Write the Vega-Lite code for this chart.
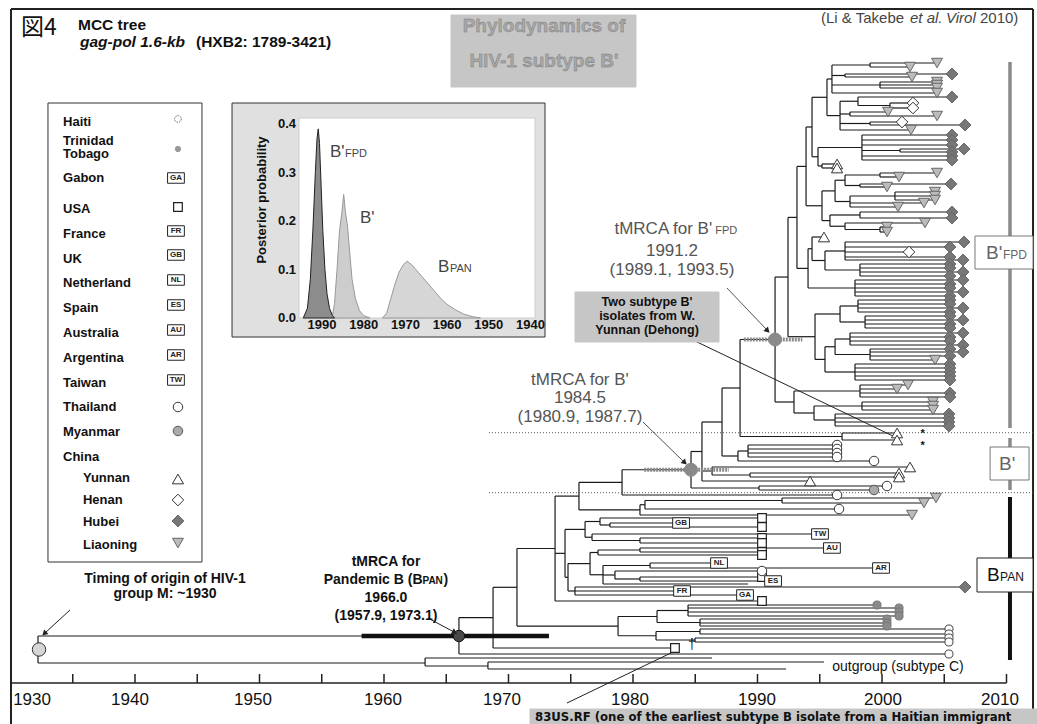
{
"$schema":"https://vega.github.io/schema/vega-lite/v6.json",
"width":1037,"height":724,"padding":0,"autosize":{"type":"none"},
"background":"white",
"config":{"view":{"stroke":null},"font":"Liberation Sans"},
"datasets":{
"boxes":[
{"x":1933.01,"x2":1945.38,"r":103,"r2":562,"k":"leg"},
{"x":1965.38,"x2":1980.24,"r":15,"r2":87,"k":"grey"},
{"x":1975.34,"x2":1986.91,"r":292,"r2":342,"k":"grey"},
{"x":1971.73,"x2":2012.45,"r":709,"r2":724,"k":"grey"},
{"x":2007.47,"x2":2012.13,"r":236,"r2":269,"k":"cg"},
{"x":2008.68,"x2":2011.81,"r":447,"r2":480,"k":"cg"},
{"x":2007.63,"x2":2012.13,"r":558,"r2":592,"k":"ck"}
],
"segs":[
{"x":1930.04,"x2":2012.13,"r":9,"r2":9,"k":"fr"},
{"x":1930.04,"x2":1930.04,"r":9,"r2":724,"k":"fr"},
{"x":2012.13,"x2":2012.13,"r":9,"r2":724,"k":"fr"},
{"x":1930.12,"x2":2010,"r":683,"r2":683,"k":"ax"},
{"x":1935,"x2":1935,"r":674,"r2":683,"k":"ax"},
{"x":1940,"x2":1940,"r":674,"r2":683,"k":"ax"},
{"x":1945,"x2":1945,"r":674,"r2":683,"k":"ax"},
{"x":1950,"x2":1950,"r":674,"r2":683,"k":"ax"},
{"x":1955,"x2":1955,"r":674,"r2":683,"k":"ax"},
{"x":1960,"x2":1960,"r":674,"r2":683,"k":"ax"},
{"x":1965,"x2":1965,"r":674,"r2":683,"k":"ax"},
{"x":1970,"x2":1970,"r":674,"r2":683,"k":"ax"},
{"x":1975,"x2":1975,"r":674,"r2":683,"k":"ax"},
{"x":1980,"x2":1980,"r":674,"r2":683,"k":"ax"},
{"x":1985,"x2":1985,"r":674,"r2":683,"k":"ax"},
{"x":1990,"x2":1990,"r":674,"r2":683,"k":"ax"},
{"x":1995,"x2":1995,"r":674,"r2":683,"k":"ax"},
{"x":2000,"x2":2000,"r":674,"r2":683,"k":"ax"},
{"x":2005,"x2":2005,"r":674,"r2":683,"k":"ax"},
{"x":2010,"x2":2010,"r":674,"r2":683,"k":"ax"},
{"x":1968.43,"x2":2012.13,"r":432.7,"r2":432.7,"k":"dot"},
{"x":1968.43,"x2":2012.13,"r":492.7,"r2":492.7,"k":"dot"},
{"x":2010.28,"x2":2010.28,"r":62,"r2":428,"k":"barg"},
{"x":2010.28,"x2":2010.28,"r":438,"r2":490,"k":"barg"},
{"x":2010.28,"x2":2010.28,"r":497,"r2":660,"k":"bark"},
{"x":1958.2,"x2":1973.25,"r":636,"r2":636,"k":"hpd"},
{"x":1980.9,"x2":1987.7,"r":469.75,"r2":469.75,"k":"hpdg"},
{"x":1988.9,"x2":1993.6,"r":339.5,"r2":339.5,"k":"hpdg"},
{"x":1934.78,"x2":1932.77,"r":610,"r2":633,"k":"arr"},
{"x":1963.53,"x2":1965.62,"r":618,"r2":632,"k":"arr"},
{"x":1980.8,"x2":1984.1,"r":422,"r2":462,"k":"garr"},
{"x":1987.55,"x2":1990.76,"r":288,"r2":330,"k":"garr"},
{"x":1984.98,"x2":2000.88,"r":341,"r2":436,"k":"arr"},
{"x":1983.21,"x2":1974.7,"r":652,"r2":703,"k":"arr"}
],
"h":[
{"x":1932.21,"x2":1966.02,"r":636},{"x":1932.21,"x2":1963.3,"r":663},{"x":1963.3,"x2":1986.35,"r":658},{"x":1963.3,"x2":1968.35,"r":666},{"x":1968.35,"x2":1995.34,"r":662},{"x":1968.35,"x2":1992.29,"r":669},
{"x":1966.02,"x2":1968.76,"r":617.6},{"x":1966.02,"x2":2005.38,"r":654},
{"x":1968.76,"x2":1970.68,"r":587.3},{"x":1968.76,"x2":1983.37,"r":648},
{"x":1970.68,"x2":1973.74,"r":548.5},{"x":1970.68,"x2":1978.8,"r":626.1},
{"x":1978.8,"x2":1981.93,"r":616.5},{"x":1978.8,"x2":1981.85,"r":635.75},
{"x":1981.93,"x2":1984.42,"r":610.5},{"x":1981.93,"x2":1985.38,"r":622.5},
{"x":1984.42,"x2":1999.6,"r":605},{"x":1984.42,"x2":2001.37,"r":608},{"x":1984.42,"x2":2001.37,"r":612},{"x":1984.42,"x2":2001.37,"r":616},
{"x":1985.38,"x2":2000.4,"r":619},{"x":1985.38,"x2":2000.4,"r":623},{"x":1985.38,"x2":2000.4,"r":626},
{"x":1981.85,"x2":1985.38,"r":631.5},{"x":1981.85,"x2":1984.98,"r":640},
{"x":1985.38,"x2":2005.38,"r":629},{"x":1985.38,"x2":2005.38,"r":634},
{"x":1984.98,"x2":2005.38,"r":638},{"x":1984.98,"x2":2005.38,"r":642},
{"x":1973.74,"x2":1975.66,"r":496.1},{"x":1973.74,"x2":1974.54,"r":553.35},{"x":1973.74,"x2":1990.36,"r":601},
{"x":1975.66,"x2":1979.12,"r":482.4},{"x":1975.66,"x2":1980.56,"r":509.9},
{"x":1980.56,"x2":1980.96,"r":504.75},{"x":1980.56,"x2":2002.41,"r":515},
{"x":1980.96,"x2":1991.97,"r":500.5},{"x":1980.96,"x2":1996.55,"r":509},
{"x":1991.97,"x2":2004.34,"r":498},{"x":1991.97,"x2":2003.37,"r":503},
{"x":1979.12,"x2":1984.66,"r":469.75},{"x":1979.12,"x2":1996.39,"r":495},
{"x":1984.66,"x2":1985.54,"r":451.5},{"x":1984.66,"x2":1990.12,"r":488},
{"x":1990.12,"x2":2000.4,"r":486},{"x":1990.12,"x2":1999.36,"r":490},
{"x":1985.54,"x2":1987.15,"r":422},{"x":1985.54,"x2":1986.35,"r":471},{"x":1985.54,"x2":1994.22,"r":481},
{"x":1986.35,"x2":2002.25,"r":467},{"x":1986.35,"x2":1989.4,"r":475},
{"x":1989.4,"x2":2001.37,"r":473},{"x":1989.4,"x2":2001.37,"r":477},
{"x":1987.15,"x2":1988.6,"r":388},{"x":1987.15,"x2":1988.43,"r":456},
{"x":1988.43,"x2":1989.24,"r":451},{"x":1988.43,"x2":1999.36,"r":461},
{"x":1989.24,"x2":1996.39,"r":445},{"x":1989.24,"x2":1996.39,"r":449},{"x":1989.24,"x2":1996.39,"r":453},{"x":1989.24,"x2":1996.39,"r":457},
{"x":1988.6,"x2":1991.41,"r":339.5},{"x":1988.6,"x2":1996.79,"r":436.5},
{"x":1996.79,"x2":2001.21,"r":433},{"x":1996.79,"x2":2001.21,"r":440},
{"x":1991.41,"x2":1992.45,"r":277.05},{"x":1991.41,"x2":1992.93,"r":402},
{"x":1992.93,"x2":1998.23,"r":391},{"x":1992.93,"x2":1994.54,"r":413},
{"x":1998.23,"x2":2002.09,"r":385},{"x":1998.23,"x2":2001.21,"r":389},{"x":1998.23,"x2":2005.46,"r":393},{"x":1998.23,"x2":2005.46,"r":397},
{"x":1994.54,"x2":1998.39,"r":406},{"x":1994.54,"x2":1996.23,"r":420},
{"x":1998.39,"x2":2004.1,"r":402},{"x":1998.39,"x2":2004.1,"r":406},{"x":1998.39,"x2":2004.1,"r":410},
{"x":1996.23,"x2":2005.38,"r":414},{"x":1996.23,"x2":2005.38,"r":418},{"x":1996.23,"x2":2005.38,"r":422},{"x":1996.23,"x2":2005.38,"r":426},
{"x":1992.45,"x2":1993.17,"r":217.4},{"x":1992.45,"x2":1994.62,"r":336.7},
{"x":1993.17,"x2":1993.9,"r":166.4},{"x":1993.17,"x2":1994.06,"r":268.4},
{"x":1993.9,"x2":1994.38,"r":127},{"x":1993.9,"x2":1995.18,"r":205.75},
{"x":1994.38,"x2":1995.58,"r":97.3},{"x":1994.38,"x2":1994.86,"r":156.75},
{"x":1995.58,"x2":1995.98,"r":79},{"x":1995.58,"x2":1996.63,"r":115.6},
{"x":1995.98,"x2":1999.04,"r":65},{"x":1995.98,"x2":1997.03,"r":75.5},{"x":1995.98,"x2":1999.84,"r":85},{"x":1995.98,"x2":2004.42,"r":93},
{"x":1999.04,"x2":2004.42,"r":63},{"x":1999.04,"x2":2002.25,"r":67},
{"x":1997.03,"x2":2005.62,"r":74},{"x":1997.03,"x2":2002.41,"r":77},
{"x":1999.84,"x2":2004.42,"r":82},{"x":1999.84,"x2":2004.42,"r":85},{"x":1999.84,"x2":2004.42,"r":88},
{"x":1996.63,"x2":1998.07,"r":101.25},{"x":1996.63,"x2":1997.43,"r":114},{"x":1996.63,"x2":1999.04,"r":123.5},{"x":1996.63,"x2":2002.33,"r":130},
{"x":1998.07,"x2":2005.62,"r":97},{"x":1998.07,"x2":2000.64,"r":105.5},
{"x":2000.64,"x2":2002.49,"r":103},{"x":2000.64,"x2":2002.49,"r":108},
{"x":1997.43,"x2":2000.48,"r":112},{"x":1997.43,"x2":2004.42,"r":116},
{"x":1999.04,"x2":2001.61,"r":122},{"x":1999.04,"x2":2006.67,"r":125},
{"x":1994.86,"x2":1998.39,"r":147.5},{"x":1994.86,"x2":1995.18,"r":166},
{"x":1998.39,"x2":2005.62,"r":135},{"x":1998.39,"x2":2005.62,"r":140},{"x":1998.39,"x2":2005.62,"r":145},{"x":1998.39,"x2":2001.45,"r":150.5},{"x":1998.39,"x2":2005.62,"r":156},{"x":1998.39,"x2":2005.62,"r":160},
{"x":2001.45,"x2":2006.59,"r":149},{"x":2001.45,"x2":2005.62,"r":152},
{"x":1995.18,"x2":1996.39,"r":164},{"x":1995.18,"x2":1996.39,"r":168},
{"x":1995.18,"x2":1996.23,"r":190.9},{"x":1995.18,"x2":1995.82,"r":220.6},
{"x":1996.23,"x2":1997.03,"r":180.25},{"x":1996.23,"x2":1997.43,"r":201.5},
{"x":1997.03,"x2":1999.84,"r":175},{"x":1997.03,"x2":1998.23,"r":185.5},
{"x":1999.84,"x2":2004.42,"r":173},{"x":1999.84,"x2":2001.37,"r":177},
{"x":1998.23,"x2":2005.54,"r":184},{"x":1998.23,"x2":2000.4,"r":187},
{"x":1997.43,"x2":2001.04,"r":196},{"x":1997.43,"x2":2003.37,"r":203},{"x":1997.43,"x2":2001.29,"r":207},
{"x":2001.04,"x2":2004.26,"r":192},{"x":2001.04,"x2":2004.26,"r":196},{"x":2001.04,"x2":2004.26,"r":200},
{"x":1995.82,"x2":1998.23,"r":215},{"x":1995.82,"x2":1997.03,"r":226.25},
{"x":1998.23,"x2":2005.62,"r":212},{"x":1998.23,"x2":2005.62,"r":218},
{"x":1997.03,"x2":2003.45,"r":223},{"x":1997.03,"x2":1999.84,"r":229.5},
{"x":1999.84,"x2":2000.4,"r":227},{"x":1999.84,"x2":2000.4,"r":232},
{"x":1994.06,"x2":1994.38,"r":248.75},{"x":1994.06,"x2":1997.83,"r":288},
{"x":1994.38,"x2":1995.34,"r":237},{"x":1994.38,"x2":1995.42,"r":260.5},
{"x":1995.42,"x2":1997.03,"r":251},{"x":1995.42,"x2":1998.23,"r":270},
{"x":1997.03,"x2":2006.59,"r":242},{"x":1997.03,"x2":2005.46,"r":247},{"x":1997.03,"x2":2002.17,"r":252},{"x":1997.03,"x2":2005.46,"r":257},{"x":1997.03,"x2":2006.51,"r":260},
{"x":1998.23,"x2":2005.46,"r":264},{"x":1998.23,"x2":2005.46,"r":268},{"x":1998.23,"x2":2006.51,"r":272},{"x":1998.23,"x2":2005.46,"r":276},
{"x":1997.83,"x2":2006.51,"r":280},{"x":1997.83,"x2":2005.46,"r":284},{"x":1997.83,"x2":2005.46,"r":288},{"x":1997.83,"x2":2006.51,"r":292},{"x":1997.83,"x2":2005.46,"r":296},
{"x":1994.62,"x2":1996.63,"r":314},{"x":1994.62,"x2":1995.42,"r":359.4},
{"x":1996.63,"x2":1998.07,"r":306},{"x":1996.63,"x2":1998.64,"r":322},
{"x":1998.07,"x2":2005.46,"r":300},{"x":1998.07,"x2":2005.46,"r":304},{"x":1998.07,"x2":2006.51,"r":308},{"x":1998.07,"x2":2005.46,"r":312},
{"x":1998.64,"x2":2005.46,"r":316},{"x":1998.64,"x2":2006.51,"r":320},{"x":1998.64,"x2":2005.46,"r":324},{"x":1998.64,"x2":2005.46,"r":328},
{"x":1995.42,"x2":1996.23,"r":346.75},{"x":1995.42,"x2":1997.83,"r":372},
{"x":1996.23,"x2":1997.43,"r":339},{"x":1996.23,"x2":1999.04,"r":354.5},
{"x":1997.43,"x2":2006.51,"r":333},{"x":1997.43,"x2":2005.46,"r":337},{"x":1997.43,"x2":2005.46,"r":341},{"x":1997.43,"x2":2006.51,"r":345},
{"x":1999.04,"x2":2005.46,"r":349},{"x":1999.04,"x2":2006.51,"r":352},{"x":1999.04,"x2":2005.46,"r":356},{"x":1999.04,"x2":2004.26,"r":360},
{"x":1997.83,"x2":2005.46,"r":364},{"x":1997.83,"x2":2005.46,"r":368},{"x":1997.83,"x2":2005.46,"r":372},{"x":1997.83,"x2":2005.46,"r":376},{"x":1997.83,"x2":2005.46,"r":380},
{"x":1974.54,"x2":1976.15,"r":529.4},{"x":1974.54,"x2":1974.78,"r":577.3},
{"x":1976.15,"x2":1977.35,"r":521.5},{"x":1976.15,"x2":1976.71,"r":537.25},
{"x":1977.35,"x2":1990.36,"r":518},{"x":1977.35,"x2":1978.15,"r":525},
{"x":1978.15,"x2":1983.86,"r":523},{"x":1978.15,"x2":1990.36,"r":527},
{"x":1976.71,"x2":1995.02,"r":534},{"x":1976.71,"x2":1980.56,"r":540.5},
{"x":1980.56,"x2":1990.36,"r":538},{"x":1980.56,"x2":1990.36,"r":543},
{"x":1974.78,"x2":1976.55,"r":563.6},{"x":1974.78,"x2":1975.34,"r":591},
{"x":1976.55,"x2":1977.19,"r":552.5},{"x":1976.55,"x2":1977.59,"r":574.75},
{"x":1977.19,"x2":1980.56,"r":550},{"x":1977.19,"x2":1990.36,"r":555},
{"x":1980.56,"x2":1995.98,"r":548},{"x":1980.56,"x2":1990.36,"r":552},
{"x":1977.59,"x2":1981.37,"r":565.5},{"x":1977.59,"x2":1978.55,"r":575},{"x":1977.59,"x2":1989.24,"r":584},
{"x":1981.37,"x2":1986.91,"r":563},{"x":1981.37,"x2":1999.92,"r":568},
{"x":1978.55,"x2":1990.36,"r":571},{"x":1978.55,"x2":1980.56,"r":579},
{"x":1980.56,"x2":1990.36,"r":577},{"x":1980.56,"x2":1991.25,"r":581},
{"x":1975.34,"x2":2006.67,"r":587},{"x":1975.34,"x2":1983.94,"r":591},{"x":1975.34,"x2":1989.0,"r":595}
],
"v":[
{"x":1932.21,"r":636,"r2":663},{"x":1963.3,"r":658,"r2":666},{"x":1968.35,"r":662,"r2":669},
{"x":1966.02,"r":617.6,"r2":654},{"x":1968.76,"r":587.3,"r2":648},{"x":1970.68,"r":548.5,"r2":626.1},
{"x":1978.8,"r":616.5,"r2":635.75},{"x":1981.93,"r":610.5,"r2":622.5},{"x":1984.42,"r":605,"r2":616},{"x":1985.38,"r":619,"r2":626},
{"x":1981.85,"r":631.5,"r2":640},{"x":1985.38,"r":629,"r2":634},{"x":1984.98,"r":638,"r2":642},
{"x":1973.74,"r":496.1,"r2":601},{"x":1975.66,"r":482.4,"r2":509.9},{"x":1980.56,"r":504.75,"r2":515},{"x":1980.96,"r":500.5,"r2":509},{"x":1991.97,"r":498,"r2":503},
{"x":1979.12,"r":469.75,"r2":495},{"x":1984.66,"r":451.5,"r2":488},{"x":1990.12,"r":486,"r2":490},
{"x":1985.54,"r":422,"r2":481},{"x":1986.35,"r":467,"r2":475},{"x":1989.4,"r":473,"r2":477},
{"x":1987.15,"r":388,"r2":456},{"x":1988.43,"r":451,"r2":461},{"x":1989.24,"r":445,"r2":457},
{"x":1988.6,"r":339.5,"r2":436.5},{"x":1996.79,"r":433,"r2":440},
{"x":1991.41,"r":277.05,"r2":402},{"x":1992.93,"r":391,"r2":413},{"x":1998.23,"r":385,"r2":397},{"x":1994.54,"r":406,"r2":420},{"x":1998.39,"r":402,"r2":410},{"x":1996.23,"r":414,"r2":426},
{"x":1992.45,"r":217.4,"r2":336.7},{"x":1993.17,"r":166.4,"r2":268.4},{"x":1993.9,"r":127,"r2":205.75},{"x":1994.38,"r":97.3,"r2":156.75},{"x":1995.58,"r":79,"r2":115.6},
{"x":1995.98,"r":65,"r2":93},{"x":1999.04,"r":63,"r2":67},{"x":1997.03,"r":74,"r2":77},{"x":1999.84,"r":82,"r2":88},
{"x":1996.63,"r":101.25,"r2":130},{"x":1998.07,"r":97,"r2":105.5},{"x":2000.64,"r":103,"r2":108},{"x":1997.43,"r":112,"r2":116},{"x":1999.04,"r":122,"r2":125},
{"x":1994.86,"r":147.5,"r2":166},{"x":1998.39,"r":135,"r2":160},{"x":2001.45,"r":149,"r2":152},{"x":1995.18,"r":164,"r2":168},
{"x":1995.18,"r":190.9,"r2":220.6},{"x":1996.23,"r":180.25,"r2":201.5},{"x":1997.03,"r":175,"r2":185.5},{"x":1999.84,"r":173,"r2":177},{"x":1998.23,"r":184,"r2":187},
{"x":1997.43,"r":196,"r2":207},{"x":2001.04,"r":192,"r2":200},{"x":1995.82,"r":215,"r2":226.25},{"x":1998.23,"r":212,"r2":218},{"x":1997.03,"r":223,"r2":229.5},{"x":1999.84,"r":227,"r2":232},
{"x":1994.06,"r":248.75,"r2":288},{"x":1994.38,"r":237,"r2":260.5},{"x":1995.42,"r":251,"r2":270},{"x":1997.03,"r":242,"r2":260},{"x":1998.23,"r":264,"r2":276},{"x":1997.83,"r":280,"r2":296},
{"x":1994.62,"r":314,"r2":359.4},{"x":1996.63,"r":306,"r2":322},{"x":1998.07,"r":300,"r2":312},{"x":1998.64,"r":316,"r2":328},
{"x":1995.42,"r":346.75,"r2":372},{"x":1996.23,"r":339,"r2":354.5},{"x":1997.43,"r":333,"r2":345},{"x":1999.04,"r":349,"r2":360},{"x":1997.83,"r":364,"r2":380},
{"x":1974.54,"r":529.4,"r2":577.3},{"x":1976.15,"r":521.5,"r2":537.25},{"x":1977.35,"r":518,"r2":525},{"x":1978.15,"r":523,"r2":527},{"x":1976.71,"r":534,"r2":540.5},{"x":1980.56,"r":538,"r2":543},
{"x":1974.78,"r":563.6,"r2":591},{"x":1976.55,"r":552.5,"r2":574.75},{"x":1977.19,"r":550,"r2":555},{"x":1980.56,"r":548,"r2":552},
{"x":1977.59,"r":565.5,"r2":584},{"x":1981.37,"r":563,"r2":568},{"x":1978.55,"r":571,"r2":579},{"x":1980.56,"r":577,"r2":581},{"x":1975.34,"r":587,"r2":595}
],
"pts":[
{"x":1932.29,"r":649.5,"s":"root"},
{"x":1966.02,"r":636,"s":"bpan"},
{"x":1984.66,"r":469.75,"s":"node"},
{"x":1991.41,"r":339.5,"s":"node"},
{"x":1943.45,"r":119,"s":"ha"},
{"x":1943.45,"r":149,"s":"ttl"},
{"x":1943.45,"r":207,"s":"us"},
{"x":1943.45,"r":407,"s":"th"},
{"x":1943.45,"r":431,"s":"my"},
{"x":1943.45,"r":479,"s":"yu"},
{"x":1943.45,"r":500,"s":"he"},
{"x":1943.45,"r":521,"s":"hu"},
{"x":1943.45,"r":543,"s":"li"},
{"x":2004.42,"r":63,"s":"li"},{"x":2002.25,"r":67,"s":"li"},{"x":2005.62,"r":74,"s":"hu"},{"x":2002.41,"r":77,"s":"li"},
{"x":2004.42,"r":82,"s":"li"},{"x":2004.42,"r":85,"s":"li"},{"x":2004.42,"r":88,"s":"li"},{"x":2004.42,"r":93,"s":"li"},
{"x":2005.62,"r":97,"s":"hu"},{"x":2002.49,"r":103,"s":"he"},{"x":2002.49,"r":108,"s":"he"},{"x":2000.48,"r":112,"s":"li"},{"x":2004.42,"r":116,"s":"li"},
{"x":2001.61,"r":122,"s":"he"},{"x":2006.67,"r":125,"s":"hu"},{"x":2002.33,"r":130,"s":"li"},
{"x":2005.62,"r":135,"s":"hu"},{"x":2005.62,"r":140,"s":"hu"},{"x":2005.62,"r":145,"s":"hu"},{"x":2006.59,"r":149,"s":"hu"},{"x":2005.62,"r":152,"s":"hu"},{"x":2005.62,"r":156,"s":"hu"},{"x":2005.62,"r":160,"s":"hu"},
{"x":1996.39,"r":164,"s":"yu"},{"x":1996.39,"r":168,"s":"yu"},
{"x":2004.42,"r":173,"s":"li"},{"x":2001.37,"r":177,"s":"li"},{"x":2005.54,"r":184,"s":"hu"},{"x":2000.4,"r":187,"s":"li"},
{"x":2004.26,"r":192,"s":"li"},{"x":2004.26,"r":196,"s":"li"},{"x":2004.26,"r":200,"s":"li"},{"x":2003.37,"r":203,"s":"li"},{"x":2001.29,"r":207,"s":"li"},
{"x":2005.62,"r":212,"s":"hu"},{"x":2005.62,"r":218,"s":"hu"},{"x":2003.45,"r":223,"s":"li"},{"x":2000.4,"r":227,"s":"li"},{"x":2000.4,"r":232,"s":"li"},
{"x":1995.34,"r":237,"s":"yu"},
{"x":2006.59,"r":242,"s":"hu"},{"x":2005.46,"r":247,"s":"hu"},{"x":2002.17,"r":252,"s":"he"},{"x":2005.46,"r":257,"s":"hu"},{"x":2006.51,"r":260,"s":"hu"},
{"x":2005.46,"r":264,"s":"hu"},{"x":2005.46,"r":268,"s":"hu"},{"x":2006.51,"r":272,"s":"hu"},{"x":2005.46,"r":276,"s":"hu"},
{"x":2006.51,"r":280,"s":"hu"},{"x":2005.46,"r":284,"s":"hu"},{"x":2005.46,"r":288,"s":"hu"},{"x":2006.51,"r":292,"s":"hu"},{"x":2005.46,"r":296,"s":"hu"},
{"x":2005.46,"r":300,"s":"hu"},{"x":2005.46,"r":304,"s":"hu"},{"x":2006.51,"r":308,"s":"hu"},{"x":2005.46,"r":312,"s":"hu"},
{"x":2005.46,"r":316,"s":"hu"},{"x":2006.51,"r":320,"s":"hu"},{"x":2005.46,"r":324,"s":"hu"},{"x":2005.46,"r":328,"s":"hu"},
{"x":2006.51,"r":333,"s":"hu"},{"x":2005.46,"r":337,"s":"hu"},{"x":2005.46,"r":341,"s":"hu"},{"x":2006.51,"r":345,"s":"hu"},
{"x":2005.46,"r":349,"s":"hu"},{"x":2006.51,"r":352,"s":"hu"},{"x":2005.46,"r":356,"s":"hu"},{"x":2004.26,"r":360,"s":"li"},
{"x":2005.46,"r":364,"s":"hu"},{"x":2005.46,"r":368,"s":"hu"},{"x":2005.46,"r":372,"s":"hu"},{"x":2005.46,"r":376,"s":"hu"},{"x":2005.46,"r":380,"s":"hu"},
{"x":2002.09,"r":385,"s":"li"},{"x":2001.21,"r":389,"s":"li"},{"x":2005.46,"r":393,"s":"hu"},{"x":2005.46,"r":397,"s":"hu"},
{"x":2004.1,"r":402,"s":"li"},{"x":2004.1,"r":406,"s":"li"},{"x":2004.1,"r":410,"s":"li"},
{"x":2005.38,"r":414,"s":"hu"},{"x":2005.38,"r":418,"s":"hu"},{"x":2005.38,"r":422,"s":"hu"},{"x":2005.38,"r":426,"s":"hu"},
{"x":2001.21,"r":433,"s":"yu"},{"x":2001.21,"r":440,"s":"yu"},
{"x":1996.39,"r":445,"s":"th"},{"x":1996.39,"r":449,"s":"th"},{"x":1996.39,"r":453,"s":"th"},{"x":1996.39,"r":457,"s":"th"},{"x":1999.36,"r":461,"s":"th"},
{"x":2002.25,"r":467,"s":"yu"},{"x":2001.37,"r":473,"s":"yu"},{"x":2001.37,"r":477,"s":"yu"},{"x":1994.22,"r":481,"s":"yu"},
{"x":2000.4,"r":486,"s":"th"},{"x":1999.36,"r":490,"s":"my"},{"x":1996.39,"r":495,"s":"th"},
{"x":2004.34,"r":498,"s":"li"},{"x":2003.37,"r":503,"s":"li"},{"x":1996.55,"r":509,"s":"th"},{"x":2002.41,"r":515,"s":"li"},
{"x":1990.36,"r":518,"s":"us"},{"x":1990.36,"r":527,"s":"us"},{"x":1990.36,"r":538,"s":"us"},{"x":1990.36,"r":543,"s":"us"},
{"x":1990.36,"r":552,"s":"us"},{"x":1990.36,"r":555,"s":"us"},{"x":1990.36,"r":571,"s":"th"},{"x":1990.36,"r":577,"s":"us"},
{"x":2006.67,"r":587,"s":"hu"},{"x":1990.36,"r":601,"s":"us"},
{"x":1999.6,"r":605,"s":"tt"},{"x":2001.37,"r":608,"s":"tt"},{"x":2001.37,"r":612,"s":"tt"},{"x":2001.37,"r":616,"s":"tt"},
{"x":2000.4,"r":619,"s":"tt"},{"x":2000.4,"r":623,"s":"tt"},{"x":2000.4,"r":626,"s":"tt"},
{"x":2005.38,"r":629,"s":"hb"},{"x":2005.38,"r":634,"s":"hb"},{"x":2005.38,"r":638,"s":"hb"},{"x":2005.38,"r":642,"s":"hb"},{"x":2005.38,"r":654,"s":"hb"},
{"x":1983.37,"r":648,"s":"us"}
],
"codes":[
{"x":1943.29,"r":178,"c":"GA"},
{"x":1943.29,"r":231,"c":"FR"},
{"x":1943.29,"r":255,"c":"GB"},
{"x":1943.29,"r":280,"c":"NL"},
{"x":1943.29,"r":305,"c":"ES"},
{"x":1943.29,"r":330,"c":"AU"},
{"x":1943.29,"r":355,"c":"AR"},
{"x":1943.29,"r":380,"c":"TW"},
{"x":1983.86,"r":523,"c":"GB"},
{"x":1995.02,"r":534,"c":"TW"},
{"x":1995.98,"r":548,"c":"AU"},
{"x":1986.91,"r":563,"c":"NL"},
{"x":1999.92,"r":568,"c":"AR"},
{"x":1991.25,"r":581,"c":"ES"},
{"x":1983.94,"r":591,"c":"FR"},
{"x":1989.0,"r":595,"c":"GA"}
],
"heads":[
{"x":1932.77,"r":633,"a":227},
{"x":1965.62,"r":632,"a":118},
{"x":1984.1,"r":462,"a":134},
{"x":1990.76,"r":330,"a":136}
],
"texts":[
{"x":1935.42,"r":25,"t":"MCC tree","st":"t1"},
{"x":1944.9,"r":41.5,"t":"(HXB2: 1789-3421)","st":"t1"},
{"x":1935.58,"r":41.5,"t":"gag-pol 1.6-kb","st":"t1i"},
{"x":1930.84,"r":28,"t":"図","st":"cjk"},
{"x":1932.69,"r":28,"t":"4","st":"cjk"},
{"x":1972.85,"r":26,"t":"Phylodynamics of","st":"phy"},
{"x":1972.85,"r":61,"t":"HIV-1 subtype B'","st":"phy"},
{"x":1995.1,"r":18,"t":"(Li & Takebe","st":"cit"},
{"x":2002.25,"r":18,"t":"et al.","st":"citi"},
{"x":2005.14,"r":18,"t":"Virol","st":"citi"},
{"x":2007.87,"r":18,"t":"2010)","st":"cit"},
{"x":1934.22,"r":122,"t":"Haiti","st":"leg"},
{"x":1934.22,"r":141,"t":"Trinidad","st":"leg"},
{"x":1934.22,"r":154,"t":"Tobago","st":"leg"},
{"x":1934.22,"r":178,"t":"Gabon","st":"leg"},
{"x":1934.22,"r":209,"t":"USA","st":"leg"},
{"x":1934.22,"r":234,"t":"France","st":"leg"},
{"x":1934.22,"r":259,"t":"UK","st":"leg"},
{"x":1934.22,"r":283,"t":"Netherland","st":"leg"},
{"x":1934.22,"r":308,"t":"Spain","st":"leg"},
{"x":1934.22,"r":333,"t":"Australia","st":"leg"},
{"x":1934.22,"r":358,"t":"Argentina","st":"leg"},
{"x":1934.22,"r":383,"t":"Taiwan","st":"leg"},
{"x":1934.22,"r":407,"t":"Thailand","st":"leg"},
{"x":1934.22,"r":432,"t":"Myanmar","st":"leg"},
{"x":1934.22,"r":457,"t":"China","st":"leg"},
{"x":1935.82,"r":478,"t":"Yunnan","st":"leg"},
{"x":1935.82,"r":500,"t":"Henan","st":"leg"},
{"x":1935.82,"r":522,"t":"Hubei","st":"leg"},
{"x":1935.82,"r":545,"t":"Liaoning","st":"leg"},
{"x":1931.73,"r":700,"t":"1930","st":"ax"},
{"x":1939.6,"r":700,"t":"1940","st":"ax"},
{"x":1949.48,"r":700,"t":"1950","st":"ax"},
{"x":1959.92,"r":700,"t":"1960","st":"ax"},
{"x":1969.48,"r":700,"t":"1970","st":"ax"},
{"x":1979.76,"r":700,"t":"1980","st":"ax"},
{"x":1989.96,"r":700,"t":"1990","st":"ax"},
{"x":2000.08,"r":700,"t":"2000","st":"ax"},
{"x":2009.48,"r":700,"t":"2010","st":"ax"},
{"x":1942.41,"r":579,"t":"Timing of origin of HIV-1","st":"ann"},
{"x":1942.41,"r":594,"t":"group M: ~1930","st":"ann"},
{"x":1960.16,"r":562,"t":"tMRCA for","st":"ann"},
{"x":1955.16,"r":580,"t":"Pandemic B (B","st":"annl"},
{"x":1963.09,"r":581,"t":"PAN","st":"annsm"},
{"x":1964.78,"r":580,"t":")","st":"annl"},
{"x":1960.16,"r":598,"t":"1966.0","st":"ann"},
{"x":1960.16,"r":616,"t":"(1957.9, 1973.1)","st":"ann"},
{"x":1978.51,"r":229,"t":"tMRCA for B'","st":"gannl"},
{"x":1986.6,"r":231,"t":"FPD","st":"gsm"},
{"x":1983.13,"r":251,"t":"1991.2","st":"gann"},
{"x":1983.13,"r":270,"t":"(1989.1, 1993.5)","st":"gann"},
{"x":1975.74,"r":380,"t":"tMRCA for B'","st":"gann"},
{"x":1975.74,"r":398,"t":"1984.5","st":"gann"},
{"x":1975.74,"r":417,"t":"(1980.9, 1987.7)","st":"gann"},
{"x":1981.13,"r":302,"t":"Two subtype B'","st":"two"},
{"x":1981.13,"r":316,"t":"isolates from W.","st":"two"},
{"x":1981.13,"r":330,"t":"Yunnan (Dehong)","st":"two"},
{"x":1972.13,"r":717,"t":"83US.RF (one of the earliest subtype B isolate from a Haitian immigrant","st":"us83"},
{"x":1996.0,"r":667,"t":"outgroup (subtype C)","st":"out"},
{"x":1984.42,"r":645,"t":"†","st":"out"},
{"x":2003.1,"r":434,"t":"*","st":"ast"},
{"x":2003.1,"r":446,"t":"*","st":"ast"},
{"x":2008.35,"r":253,"t":"B'","st":"cladeg"},
{"x":2009.72,"r":255,"t":"FPD","st":"cladegs"},
{"x":2009.4,"r":464,"t":"B'","st":"cladeg"},
{"x":2008.43,"r":575,"t":"B","st":"cladek"},
{"x":2009.48,"r":577,"t":"PAN","st":"cladeks"}
],
"iboxes":[
{"x":2011.58,"x2":1936.52,"v":0.4433,"v2":-0.0392,"k":"bg"},
{"x":1995.52,"x2":1938.92,"v":0.4124,"v2":0,"k":"pl"}
],
"igrid":[
{"x":1995,"k":"d"},{"x":1990,"k":"s"},{"x":1985,"k":"d"},{"x":1980,"k":"s"},{"x":1975,"k":"d"},{"x":1970,"k":"s"},{"x":1965,"k":"d"},{"x":1960,"k":"s"},{"x":1955,"k":"d"},{"x":1950,"k":"s"},{"x":1945,"k":"d"},{"x":1940,"k":"s"}
],
"icurves":[
{"x":1987.6,"v":0,"c":"b"},{"x":1987,"v":0.03,"c":"b"},{"x":1986.4,"v":0.1,"c":"b"},{"x":1985.8,"v":0.18,"c":"b"},{"x":1985.2,"v":0.22,"c":"b"},{"x":1984.8,"v":0.255,"c":"b"},{"x":1984.4,"v":0.22,"c":"b"},{"x":1983.9,"v":0.19,"c":"b"},{"x":1983.4,"v":0.14,"c":"b"},{"x":1982.8,"v":0.08,"c":"b"},{"x":1982,"v":0.04,"c":"b"},{"x":1981,"v":0.015,"c":"b"},{"x":1980,"v":0.005,"c":"b"},{"x":1978.5,"v":0,"c":"b"},
{"x":1975.5,"v":0,"c":"pan"},{"x":1974.5,"v":0.01,"c":"pan"},{"x":1973.5,"v":0.04,"c":"pan"},{"x":1972.5,"v":0.07,"c":"pan"},{"x":1971.5,"v":0.095,"c":"pan"},{"x":1970.5,"v":0.11,"c":"pan"},{"x":1969.6,"v":0.117,"c":"pan"},{"x":1968.5,"v":0.11,"c":"pan"},{"x":1967.5,"v":0.1,"c":"pan"},{"x":1966,"v":0.085,"c":"pan"},{"x":1964.5,"v":0.07,"c":"pan"},{"x":1963,"v":0.055,"c":"pan"},{"x":1961.5,"v":0.04,"c":"pan"},{"x":1960,"v":0.028,"c":"pan"},{"x":1958,"v":0.017,"c":"pan"},{"x":1956,"v":0.008,"c":"pan"},{"x":1954,"v":0.003,"c":"pan"},{"x":1952,"v":0,"c":"pan"},
{"x":1994.5,"v":0,"c":"fpd"},{"x":1993.5,"v":0.02,"c":"fpd"},{"x":1992.8,"v":0.08,"c":"fpd"},{"x":1992.2,"v":0.18,"c":"fpd"},{"x":1991.6,"v":0.3,"c":"fpd"},{"x":1991.2,"v":0.37,"c":"fpd"},{"x":1990.9,"v":0.39,"c":"fpd"},{"x":1990.6,"v":0.36,"c":"fpd"},{"x":1990.2,"v":0.27,"c":"fpd"},{"x":1989.8,"v":0.18,"c":"fpd"},{"x":1989.3,"v":0.1,"c":"fpd"},{"x":1988.8,"v":0.05,"c":"fpd"},{"x":1988.2,"v":0.02,"c":"fpd"},{"x":1987.5,"v":0.005,"c":"fpd"},{"x":1987,"v":0,"c":"fpd"}
],
"itexts":[
{"x":1996.24,"v":0,"t":"0.0","st":"yl"},
{"x":1996.24,"v":0.1,"t":"0.1","st":"yl"},
{"x":1996.24,"v":0.2,"t":"0.2","st":"yl"},
{"x":1996.24,"v":0.3,"t":"0.3","st":"yl"},
{"x":1996.24,"v":0.4,"t":"0.4","st":"yl"},
{"x":1990,"v":-0.0144,"t":"1990","st":"xl"},
{"x":1980,"v":-0.0144,"t":"1980","st":"xl"},
{"x":1970,"v":-0.0144,"t":"1970","st":"xl"},
{"x":1960,"v":-0.0144,"t":"1960","st":"xl"},
{"x":1950,"v":-0.0144,"t":"1950","st":"xl"},
{"x":1940,"v":-0.0144,"t":"1940","st":"xl"},
{"x":2004.39,"v":0.2433,"t":"Posterior probability","st":"yt"},
{"x":1988.08,"v":0.3423,"t":"B'","st":"lab"},
{"x":1984.49,"v":0.338,"t":"FPD","st":"labs"},
{"x":1980.89,"v":0.2062,"t":"B'","st":"lab"},
{"x":1962.18,"v":0.1052,"t":"B","st":"lab"},
{"x":1959.31,"v":0.101,"t":"PAN","st":"labs"}
]
},
"layer":[
{"encoding":{
  "x":{"field":"x","type":"quantitative","scale":{"domain":[1929.157,2012.45],"nice":false,"zero":false},"axis":null},
  "y":{"field":"r","type":"quantitative","scale":{"domain":[0,724],"reverse":true,"nice":false,"zero":false},"axis":null}},
 "layer":[
  {"data":{"name":"h"},"mark":{"type":"rule","color":"#1a1a1a","strokeWidth":1.2},"encoding":{"x2":{"field":"x2"}}},
  {"data":{"name":"v"},"mark":{"type":"rule","color":"#1a1a1a","strokeWidth":1.2},"encoding":{"y2":{"field":"r2"}}},
  {"data":{"name":"segs"},"transform":[{"filter":"datum.k==='fr'"}],"mark":{"type":"rule","color":"#222","strokeWidth":2},"encoding":{"x2":{"field":"x2"},"y2":{"field":"r2"}}},
  {"data":{"name":"segs"},"transform":[{"filter":"datum.k==='ax'"}],"mark":{"type":"rule","color":"#222","strokeWidth":1.5},"encoding":{"x2":{"field":"x2"},"y2":{"field":"r2"}}},
  {"data":{"name":"segs"},"transform":[{"filter":"datum.k==='hpd'"}],"mark":{"type":"rule","color":"#111","strokeWidth":4.5},"encoding":{"x2":{"field":"x2"},"y2":{"field":"r2"}}},
  {"data":{"name":"segs"},"transform":[{"filter":"datum.k==='hpdg'"}],"mark":{"type":"rule","color":"#8a8a8a","strokeWidth":4,"strokeDash":[2,1]},"encoding":{"x2":{"field":"x2"},"y2":{"field":"r2"}}},
  {"data":{"name":"segs"},"transform":[{"filter":"datum.k==='dot'"}],"mark":{"type":"rule","color":"#555","strokeWidth":1,"strokeDash":[1,2]},"encoding":{"x2":{"field":"x2"},"y2":{"field":"r2"}}},
  {"data":{"name":"segs"},"transform":[{"filter":"datum.k==='arr'"}],"mark":{"type":"rule","color":"#222","strokeWidth":1},"encoding":{"x2":{"field":"x2"},"y2":{"field":"r2"}}},
  {"data":{"name":"segs"},"transform":[{"filter":"datum.k==='garr'"}],"mark":{"type":"rule","color":"#555","strokeWidth":1},"encoding":{"x2":{"field":"x2"},"y2":{"field":"r2"}}},
  {"data":{"name":"segs"},"transform":[{"filter":"datum.k==='barg'"}],"mark":{"type":"rule","color":"#8a8a8a","strokeWidth":3.5},"encoding":{"x2":{"field":"x2"},"y2":{"field":"r2"}}},
  {"data":{"name":"segs"},"transform":[{"filter":"datum.k==='bark'"}],"mark":{"type":"rule","color":"#111","strokeWidth":4},"encoding":{"x2":{"field":"x2"},"y2":{"field":"r2"}}},
  {"data":{"name":"boxes"},"mark":{"type":"rect","strokeWidth":1},
   "encoding":{"x2":{"field":"x2"},"y2":{"field":"r2"},
     "fill":{"field":"k","type":"nominal","scale":{"domain":["leg","grey","cg","ck"],"range":["#ffffff","#c6c6c6","#ffffff","#ffffff"]},"legend":null},
     "stroke":{"field":"k","type":"nominal","scale":{"domain":["leg","grey","cg","ck"],"range":["#333333","#c6c6c6","#777777","#222222"]},"legend":null}}},
  {"data":{"name":"pts"},"transform":[{"filter":"datum.s==='root'"}],"mark":{"type":"point","shape":"circle","filled":true,"fill":"#d6d6d6","stroke":"#333","strokeWidth":1,"size":180,"opacity":1}},
  {"data":{"name":"pts"},"transform":[{"filter":"datum.s==='bpan'"}],"mark":{"type":"point","shape":"circle","filled":true,"fill":"#4a4a4a","stroke":"#111","strokeWidth":1,"size":130,"opacity":1}},
  {"data":{"name":"pts"},"transform":[{"filter":"datum.s==='node'"}],"mark":{"type":"point","shape":"circle","filled":true,"fill":"#8a8a8a","stroke":"#8a8a8a","strokeWidth":1,"size":170,"opacity":1}},
  {"data":{"name":"pts"},"transform":[{"filter":"datum.s==='ha'"}],"mark":{"type":"point","shape":"circle","filled":true,"fill":"#fff","stroke":"#666","strokeWidth":1,"strokeDash":[1.5,1],"size":45,"opacity":1}},
  {"data":{"name":"pts"},"transform":[{"filter":"datum.s==='hb'"}],"mark":{"type":"point","shape":"circle","filled":true,"fill":"#fff","stroke":"#444","strokeWidth":1,"size":65,"opacity":1}},
  {"data":{"name":"pts"},"transform":[{"filter":"datum.s==='tt'"}],"mark":{"type":"point","shape":"circle","filled":true,"fill":"#8a8a8a","stroke":"#777","strokeWidth":1,"size":65,"opacity":1}},
  {"data":{"name":"pts"},"transform":[{"filter":"datum.s==='ttl'"}],"mark":{"type":"point","shape":"circle","filled":true,"fill":"#999","stroke":"#999","strokeWidth":1,"size":28,"opacity":1}},
  {"data":{"name":"pts"},"transform":[{"filter":"datum.s==='us'"}],"mark":{"type":"point","shape":"square","filled":true,"fill":"#fff","stroke":"#222","strokeWidth":1.2,"size":75,"opacity":1}},
  {"data":{"name":"pts"},"transform":[{"filter":"datum.s==='th'"}],"mark":{"type":"point","shape":"circle","filled":true,"fill":"#fff","stroke":"#333","strokeWidth":1,"size":90,"opacity":1}},
  {"data":{"name":"pts"},"transform":[{"filter":"datum.s==='my'"}],"mark":{"type":"point","shape":"circle","filled":true,"fill":"#aaa","stroke":"#555","strokeWidth":1,"size":90,"opacity":1}},
  {"data":{"name":"pts"},"transform":[{"filter":"datum.s==='yu'"}],"mark":{"type":"point","shape":"triangle-up","filled":true,"fill":"#fff","stroke":"#333","strokeWidth":1,"size":125,"opacity":1}},
  {"data":{"name":"pts"},"transform":[{"filter":"datum.s==='he'"}],"mark":{"type":"point","shape":"diamond","filled":true,"fill":"#fff","stroke":"#333","strokeWidth":1,"size":135,"opacity":1}},
  {"data":{"name":"pts"},"transform":[{"filter":"datum.s==='hu'"}],"mark":{"type":"point","shape":"diamond","filled":true,"fill":"#777","stroke":"#666","strokeWidth":1,"size":140,"opacity":1}},
  {"data":{"name":"pts"},"transform":[{"filter":"datum.s==='li'"}],"mark":{"type":"point","shape":"triangle-down","filled":true,"fill":"#bbb","stroke":"#666","strokeWidth":1,"size":120,"opacity":1}},
  {"data":{"name":"codes"},"mark":{"type":"point","shape":"M-1.6,-1H1.6V1H-1.6Z","size":110,"filled":true,"fill":"#fff","stroke":"#222","strokeWidth":1,"opacity":1}},
  {"data":{"name":"codes"},"mark":{"type":"text","fontSize":8,"fontWeight":"bold","color":"#222"},"encoding":{"text":{"field":"c"}}},
  {"data":{"name":"heads"},"mark":{"type":"point","shape":"triangle","filled":true,"size":40,"color":"#222","opacity":1},
   "encoding":{"angle":{"field":"a","type":"quantitative","scale":null}}},
  {"data":{"name":"texts"},"transform":[{"filter":"datum.st==='t1'"}],"mark":{"type":"text","align":"left","fontSize":15.5,"fontWeight":"bold","color":"#111"},"encoding":{"text":{"field":"t"}}},
  {"data":{"name":"texts"},"transform":[{"filter":"datum.st==='t1i'"}],"mark":{"type":"text","align":"left","fontSize":15.5,"fontWeight":"bold","fontStyle":"italic","color":"#111"},"encoding":{"text":{"field":"t"}}},
  {"data":{"name":"texts"},"transform":[{"filter":"datum.st==='cjk'"}],"mark":{"type":"text","align":"left","fontSize":23,"font":"Noto Sans CJK JP","color":"#111"},"encoding":{"text":{"field":"t"}}},
  {"data":{"name":"texts"},"transform":[{"filter":"datum.st==='phy'"}],"mark":{"type":"text","fontSize":19,"fontWeight":"bold","color":"#a8a8a8","stroke":"#777","strokeWidth":0.4},"encoding":{"text":{"field":"t"}}},
  {"data":{"name":"texts"},"transform":[{"filter":"datum.st==='cit'"}],"mark":{"type":"text","align":"left","fontSize":15,"color":"#444"},"encoding":{"text":{"field":"t"}}},
  {"data":{"name":"texts"},"transform":[{"filter":"datum.st==='citi'"}],"mark":{"type":"text","align":"left","fontSize":15,"fontStyle":"italic","color":"#444"},"encoding":{"text":{"field":"t"}}},
  {"data":{"name":"texts"},"transform":[{"filter":"datum.st==='leg'"}],"mark":{"type":"text","align":"left","fontSize":13,"fontWeight":"bold","color":"#111"},"encoding":{"text":{"field":"t"}}},
  {"data":{"name":"texts"},"transform":[{"filter":"datum.st==='ax'"}],"mark":{"type":"text","fontSize":17,"color":"#111"},"encoding":{"text":{"field":"t"}}},
  {"data":{"name":"texts"},"transform":[{"filter":"datum.st==='ann'"}],"mark":{"type":"text","fontSize":14,"fontWeight":"bold","color":"#111"},"encoding":{"text":{"field":"t"}}},
  {"data":{"name":"texts"},"transform":[{"filter":"datum.st==='annl'"}],"mark":{"type":"text","align":"left","fontSize":14,"fontWeight":"bold","color":"#111"},"encoding":{"text":{"field":"t"}}},
  {"data":{"name":"texts"},"transform":[{"filter":"datum.st==='annsm'"}],"mark":{"type":"text","align":"left","fontSize":10,"fontWeight":"bold","color":"#111"},"encoding":{"text":{"field":"t"}}},
  {"data":{"name":"texts"},"transform":[{"filter":"datum.st==='gann'"}],"mark":{"type":"text","fontSize":17,"color":"#555"},"encoding":{"text":{"field":"t"}}},
  {"data":{"name":"texts"},"transform":[{"filter":"datum.st==='gannl'"}],"mark":{"type":"text","align":"left","fontSize":17,"color":"#555"},"encoding":{"text":{"field":"t"}}},
  {"data":{"name":"texts"},"transform":[{"filter":"datum.st==='gsm'"}],"mark":{"type":"text","align":"left","fontSize":11,"color":"#555"},"encoding":{"text":{"field":"t"}}},
  {"data":{"name":"texts"},"transform":[{"filter":"datum.st==='two'"}],"mark":{"type":"text","fontSize":12.5,"fontWeight":"bold","color":"#111"},"encoding":{"text":{"field":"t"}}},
  {"data":{"name":"texts"},"transform":[{"filter":"datum.st==='us83'"}],"mark":{"type":"text","align":"left","fontSize":13,"fontWeight":"bold","font":"Liberation Sans Narrow, DejaVu Sans Condensed, sans-serif","color":"#111"},"encoding":{"text":{"field":"t"}}},
  {"data":{"name":"texts"},"transform":[{"filter":"datum.st==='out'"}],"mark":{"type":"text","align":"left","fontSize":14,"color":"#111"},"encoding":{"text":{"field":"t"}}},
  {"data":{"name":"texts"},"transform":[{"filter":"datum.st==='ast'"}],"mark":{"type":"text","align":"left","fontSize":11,"fontWeight":"bold","color":"#111"},"encoding":{"text":{"field":"t"}}},
  {"data":{"name":"texts"},"transform":[{"filter":"datum.st==='cladeg'"}],"mark":{"type":"text","align":"left","fontSize":19,"color":"#666"},"encoding":{"text":{"field":"t"}}},
  {"data":{"name":"texts"},"transform":[{"filter":"datum.st==='cladegs'"}],"mark":{"type":"text","align":"left","fontSize":12,"color":"#666"},"encoding":{"text":{"field":"t"}}},
  {"data":{"name":"texts"},"transform":[{"filter":"datum.st==='cladek'"}],"mark":{"type":"text","align":"left","fontSize":19,"color":"#111"},"encoding":{"text":{"field":"t"}}},
  {"data":{"name":"texts"},"transform":[{"filter":"datum.st==='cladeks'"}],"mark":{"type":"text","align":"left","fontSize":12,"color":"#111"},"encoding":{"text":{"field":"t"}}}
 ],
 "resolve":{"scale":{"color":"independent","fill":"independent","stroke":"independent","angle":"independent"}}},
{"encoding":{
  "x":{"field":"x","type":"quantitative","scale":{"domain":[1818.54,2067.22],"reverse":true,"nice":false,"zero":false},"axis":null},
  "y":{"field":"v","type":"quantitative","scale":{"domain":[-0.8371,0.6557],"nice":false,"zero":false},"axis":null}},
 "layer":[
  {"data":{"name":"iboxes"},"mark":{"type":"rect","strokeWidth":1},
   "encoding":{"x2":{"field":"x2"},"y2":{"field":"v2"},
     "fill":{"field":"k","type":"nominal","scale":{"domain":["bg","pl"],"range":["#e0e0e0","#ffffff"]},"legend":null},
     "stroke":{"field":"k","type":"nominal","scale":{"domain":["bg","pl"],"range":["#333333","#cccccc"]},"legend":null}}},
  {"data":{"name":"igrid"},"transform":[{"filter":"datum.k==='s'"}],"mark":{"type":"rule","strokeWidth":1,"color":"#777"},
   "encoding":{"y":{"datum":0},"y2":{"datum":0.4124}}},
  {"data":{"name":"igrid"},"transform":[{"filter":"datum.k==='d'"}],"mark":{"type":"rule","strokeWidth":1,"color":"#aaa","strokeDash":[2,2]},
   "encoding":{"y":{"datum":0},"y2":{"datum":0.4124}}},
  {"data":{"name":"icurves"},"mark":{"type":"area","strokeWidth":1,"opacity":1},
   "encoding":{"y2":{"datum":0},"detail":{"field":"c"},
     "fill":{"field":"c","type":"nominal","scale":{"domain":["fpd","b","pan"],"range":["#8c8c8c","#cdcdcd","#d6d6d6"]},"legend":null},
     "stroke":{"field":"c","type":"nominal","scale":{"domain":["fpd","b","pan"],"range":["#222222","#999999","#999999"]},"legend":null}}},
  {"data":{"name":"itexts"},"transform":[{"filter":"datum.st==='yl'"}],"mark":{"type":"text","align":"right","fontSize":13,"fontWeight":"bold","color":"#111"},"encoding":{"text":{"field":"t"}}},
  {"data":{"name":"itexts"},"transform":[{"filter":"datum.st==='xl'"}],"mark":{"type":"text","fontSize":13,"fontWeight":"bold","color":"#111"},"encoding":{"text":{"field":"t"}}},
  {"data":{"name":"itexts"},"transform":[{"filter":"datum.st==='yt'"}],"mark":{"type":"text","angle":270,"fontSize":13,"fontWeight":"bold","color":"#111"},"encoding":{"text":{"field":"t"}}},
  {"data":{"name":"itexts"},"transform":[{"filter":"datum.st==='lab'"}],"mark":{"type":"text","align":"left","fontSize":17,"color":"#444"},"encoding":{"text":{"field":"t"}}},
  {"data":{"name":"itexts"},"transform":[{"filter":"datum.st==='labs'"}],"mark":{"type":"text","align":"left","fontSize":11,"color":"#444"},"encoding":{"text":{"field":"t"}}}
 ],
 "resolve":{"scale":{"fill":"independent","stroke":"independent"}}}
],
"resolve":{"scale":{"x":"independent","y":"independent","fill":"independent","stroke":"independent"}}
}
